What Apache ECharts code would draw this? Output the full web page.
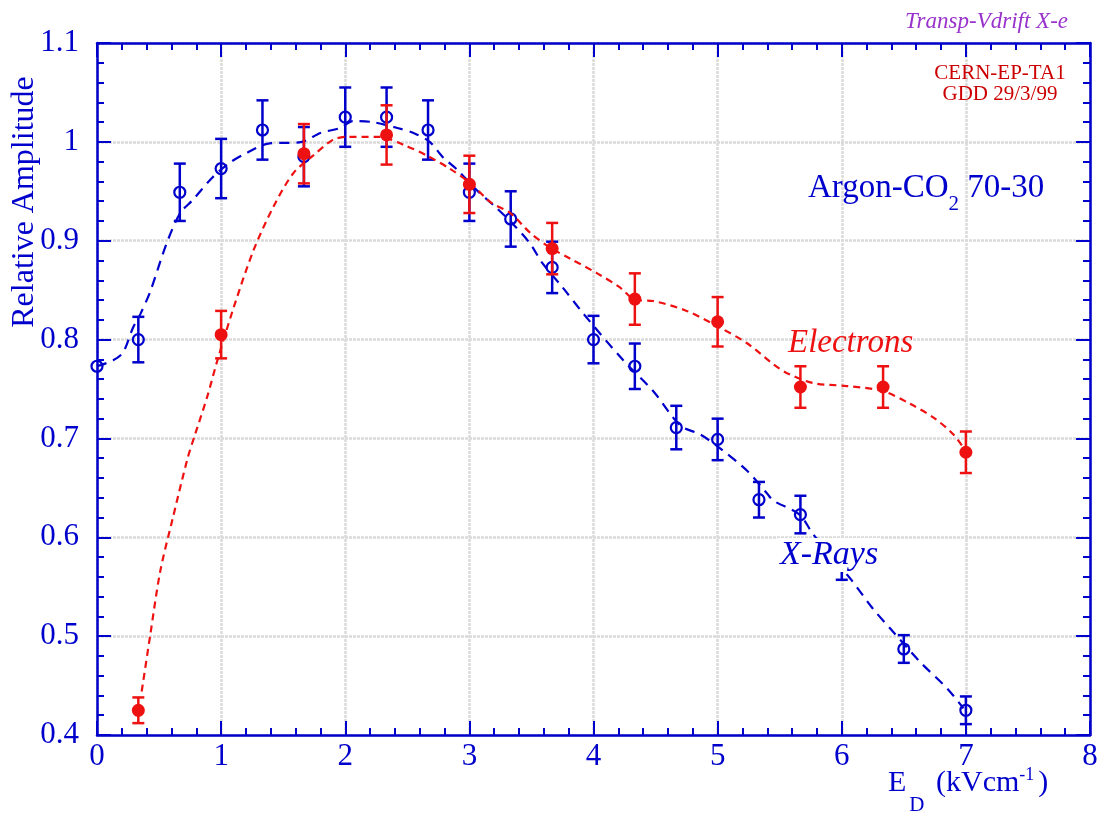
<!DOCTYPE html>
<html><head><meta charset="utf-8">
<script src="https://cdn.jsdelivr.net/npm/echarts@6.0.0/dist/echarts.min.js"></script>
<style>html,body{margin:0;padding:0;background:#fff}#c{width:1103px;height:814px}</style>
</head><body><div id="c"></div>
<script>
// ---- data ----
const xRayX   = [0, 0.333, 0.667, 1, 1.333, 1.667, 2, 2.333, 2.667, 3, 3.333, 3.667, 4, 4.333, 4.667, 5, 5.333, 5.667, 6, 6.5, 7];
const xRayY   = [0.773, 0.800, 0.949, 0.973, 1.012, 0.985, 1.025, 1.025, 1.012, 0.949, 0.922, 0.873, 0.800, 0.773, 0.711, 0.699, 0.638, 0.623, 0.575, 0.487, 0.425];
const xRayErr = [0, 0.023, 0.029, 0.030, 0.030, 0.030, 0.030, 0.030, 0.030, 0.029, 0.028, 0.026, 0.024, 0.023, 0.022, 0.021, 0.018, 0.019, 0.018, 0.014, 0.014];

const elecX   = [0.333, 1, 1.667, 2.333, 3, 3.667, 4.333, 5, 5.667, 6.333, 7];
const elecY   = [0.425, 0.805, 0.988, 1.007, 0.957, 0.892, 0.841, 0.818, 0.752, 0.752, 0.686];
const elecErr = [0.013, 0.024, 0.030, 0.030, 0.029, 0.026, 0.026, 0.025, 0.021, 0.021, 0.021];

// dashed guide curves
const xRayCurveX = [0, 0.13, 0.21, 0.29, 0.35, 0.43, 0.56, 0.67, 0.77, 0.93, 1.07, 1.21, 1.37, 1.65, 1.80, 1.96, 2.06, 2.22, 2.42, 2.55, 2.68, 2.79, 2.90, 3.06, 3.22, 3.35, 3.49, 3.59, 3.75, 3.92, 4.24, 4.48, 4.70, 4.86, 5.02, 5.24, 5.40, 5.45, 5.66, 5.77, 6.07, 6.25, 6.41, 6.63, 6.85, 6.98];
const xRayCurveY = [0.773, 0.779, 0.787, 0.812, 0.826, 0.849, 0.897, 0.928, 0.941, 0.964, 0.979, 0.989, 0.998, 1.000, 1.009, 1.014, 1.021, 1.020, 1.014, 1.009, 1.000, 0.984, 0.972, 0.951, 0.933, 0.917, 0.897, 0.877, 0.853, 0.826, 0.779, 0.748, 0.713, 0.704, 0.690, 0.667, 0.644, 0.637, 0.623, 0.603, 0.558, 0.528, 0.505, 0.474, 0.447, 0.427];
const elecCurveX = [0.36, 0.43, 0.51, 0.61, 0.73, 0.79, 0.89, 0.97, 1.10, 1.26, 1.42, 1.58, 1.74, 1.90, 2.01, 2.28, 2.47, 2.66, 2.84, 3.01, 3.17, 3.33, 3.49, 3.65, 3.81, 4.03, 4.21, 4.34, 4.48, 4.75, 5.02, 5.24, 5.45, 5.56, 5.77, 6.04, 6.33, 6.55, 6.74, 6.90, 7.0];
const elecCurveY = [0.444, 0.502, 0.566, 0.619, 0.680, 0.704, 0.743, 0.779, 0.832, 0.890, 0.934, 0.968, 0.986, 1.002, 1.005, 1.005, 0.997, 0.986, 0.973, 0.958, 0.939, 0.928, 0.908, 0.893, 0.882, 0.867, 0.853, 0.840, 0.839, 0.829, 0.812, 0.796, 0.775, 0.766, 0.756, 0.753, 0.748, 0.735, 0.721, 0.704, 0.687];

const xMin = 0, xMax = 8, xStep = 1;
const yMin = 0.4, yMax = 1.1, yStep = 0.1;

// ---- styling ----
const BLUE = '#0000cc', RED = '#ee1111', GRIDC = '#dadada';
const SERIF = '"Liberation Serif", "Times New Roman", serif';

function pairs(xs, ys) { return xs.map((x, i) => [x, ys[i]]); }
function triples(xs, ys, es) { return xs.map((x, i) => [x, ys[i], es[i]]); }

function errRender(color) {
  return function (params, api) {
    const x = api.value(0), y = api.value(1), e = api.value(2);
    if (!e) return null;
    const p1 = api.coord([x, y + e]), p2 = api.coord([x, y - e]);
    const h = 6;
    const st = { stroke: color, lineWidth: 2.5 };
    return { type: 'group', children: [
      { type: 'line', shape: { x1: p1[0], y1: p1[1], x2: p2[0], y2: p2[1] }, style: st },
      { type: 'line', shape: { x1: p1[0] - h, y1: p1[1], x2: p1[0] + h, y2: p1[1] }, style: st },
      { type: 'line', shape: { x1: p2[0] - h, y1: p2[1], x2: p2[0] + h, y2: p2[1] }, style: st }
    ]};
  };
}

function axisCommon(labels) {
  return {
    axisLine: { show: true, onZero: false, lineStyle: { color: BLUE, width: 2.5 } },
    axisTick: { show: true, inside: true, length: 14, lineStyle: { color: BLUE, width: 2 } },
    minorTick: { show: true, splitNumber: 5, length: 7, lineStyle: { color: BLUE, width: 2 } },
    splitLine: { show: labels, lineStyle: { color: GRIDC, width: 2.5, type: [3, 1] } },
    minorSplitLine: { show: false }
  };
}

const chart = echarts.init(document.getElementById('c'), null, { renderer: 'canvas' });

const ctx = document.createElement('canvas').getContext('2d');
function tw(text, font) { ctx.font = font; return ctx.measureText(text).width; }

const fMain = '33px ' + SERIF;
const fSub = '21px ' + SERIF;
const argX0 = 808;
const argW1 = tw('Argon-CO', fMain);
const argW2 = tw('2', fSub);
const edX0 = 888;
const edW1 = tw('E', '30px ' + SERIF);
const edW2 = tw('D', fSub);
const edW3 = tw(' (kVcm', '30px ' + SERIF);
const edW4 = tw('-1', '18px ' + SERIF);

const option = {
  animation: false,
  backgroundColor: '#ffffff',
  grid: { left: 97, right: 13, top: 43, bottom: 79, containLabel: false, outerBoundsMode: 'none' },
  xAxis: [
    Object.assign({ type: 'value', min: xMin, max: xMax, interval: xStep, position: 'bottom',
      axisLabel: { show: true, color: BLUE, fontSize: 31, fontFamily: SERIF, margin: 6,
        formatter: v => String(v) } }, axisCommon(true)),
    Object.assign({ type: 'value', min: xMin, max: xMax, interval: xStep, position: 'top',
      axisLabel: { show: false } }, axisCommon(false))
  ],
  yAxis: [
    Object.assign({ type: 'value', min: yMin, max: yMax, interval: yStep, position: 'left',
      axisLabel: { show: true, color: BLUE, fontSize: 31, fontFamily: SERIF, margin: 18,
        formatter: v => String(+v.toFixed(1)) } }, axisCommon(true)),
    Object.assign({ type: 'value', min: yMin, max: yMax, interval: yStep, position: 'right',
      axisLabel: { show: false } }, axisCommon(false))
  ],
  series: [
    { name: 'xray-curve', type: 'line', data: pairs(xRayCurveX, xRayCurveY), showSymbol: false, smooth: 0.3,
      lineStyle: { color: BLUE, width: 2.2, type: [10, 7] }, z: 2 },
    { name: 'xray-err', type: 'custom', renderItem: errRender(BLUE), data: triples(xRayX, xRayY, xRayErr),
      encode: { x: 0, y: 1 }, z: 3 },
    { name: 'xray', type: 'scatter', data: pairs(xRayX, xRayY), symbol: 'circle', symbolSize: 11,
      itemStyle: { color: 'rgba(255,255,255,0)', borderColor: BLUE, borderWidth: 2.2, opacity: 1 }, z: 4 },
    { name: 'elec-curve', type: 'line', data: pairs(elecCurveX, elecCurveY), showSymbol: false, smooth: 0.3,
      lineStyle: { color: RED, width: 2.2, type: [7, 5] }, z: 5 },
    { name: 'elec-err', type: 'custom', renderItem: errRender(RED), data: triples(elecX, elecY, elecErr),
      encode: { x: 0, y: 1 }, z: 6 },
    { name: 'elec', type: 'scatter', data: pairs(elecX, elecY), symbol: 'circle', symbolSize: 13,
      itemStyle: { color: RED, opacity: 1 }, z: 7 }
  ],
  graphic: [
    { type: 'text', z: 100, x: 1068, y: 22, style: { text: 'Transp-Vdrift X-e', fill: '#9933cc',
      font: 'italic 23px ' + SERIF, textAlign: 'right', textVerticalAlign: 'middle' } },
    { type: 'text', z: 100, x: 1000, y: 73, style: { text: 'CERN-EP-TA1', fill: '#cc0000',
      font: '21px ' + SERIF, textAlign: 'center', textVerticalAlign: 'middle' } },
    { type: 'text', z: 100, x: 1000, y: 94, style: { text: 'GDD 29/3/99', fill: '#cc0000',
      font: '21px ' + SERIF, textAlign: 'center', textVerticalAlign: 'middle' } },
    { type: 'text', z: 100, x: argX0, y: 188, style: { text: 'Argon-CO', fill: BLUE, font: fMain,
      textAlign: 'left', textVerticalAlign: 'middle' } },
    { type: 'text', z: 100, x: argX0 + argW1, y: 204, style: { text: '2', fill: BLUE, font: fSub,
      textAlign: 'left', textVerticalAlign: 'middle' } },
    { type: 'text', z: 100, x: argX0 + argW1 + argW2, y: 188, style: { text: ' 70-30', fill: BLUE, font: fMain,
      textAlign: 'left', textVerticalAlign: 'middle' } },
    { type: 'text', z: 100, x: 788, y: 343, style: { text: 'Electrons', fill: RED, font: 'italic 33px ' + SERIF,
      textAlign: 'left', textVerticalAlign: 'middle' } },
    { type: 'text', z: 100, x: 778, y: 555, style: { text: 'X-Rays', fill: BLUE, font: 'italic 34px ' + SERIF,
      textAlign: 'left', textVerticalAlign: 'middle', backgroundColor: '#ffffff', padding: [0, 2, 0, 2] } },
    { type: 'text', z: 100, x: 25, y: 202, rotation: Math.PI / 2, style: { text: 'Relative Amplitude', fill: BLUE,
      font: '32px ' + SERIF, textAlign: 'center', textVerticalAlign: 'middle' } },
    { type: 'text', z: 100, x: edX0, y: 783, style: { text: 'E', fill: BLUE, font: '30px ' + SERIF,
      textAlign: 'left', textVerticalAlign: 'middle' } },
    { type: 'text', z: 100, x: edX0 + edW1 + 3, y: 805, style: { text: 'D', fill: BLUE, font: fSub,
      textAlign: 'left', textVerticalAlign: 'middle' } },
    { type: 'text', z: 100, x: edX0 + edW1 + 3 + edW2 + 4, y: 783, style: { text: ' (kVcm', fill: BLUE, font: '30px ' + SERIF,
      textAlign: 'left', textVerticalAlign: 'middle' } },
    { type: 'text', z: 100, x: edX0 + edW1 + 7 + edW2 + edW3, y: 775, style: { text: '-1', fill: BLUE, font: '18px ' + SERIF,
      textAlign: 'left', textVerticalAlign: 'middle' } },
    { type: 'text', z: 100, x: edX0 + edW1 + 7 + edW2 + edW3 + edW4 + 4, y: 783, style: { text: ')', fill: BLUE, font: '30px ' + SERIF,
      textAlign: 'left', textVerticalAlign: 'middle' } }
  ]
};
chart.setOption(option);
</script>
</body></html>
